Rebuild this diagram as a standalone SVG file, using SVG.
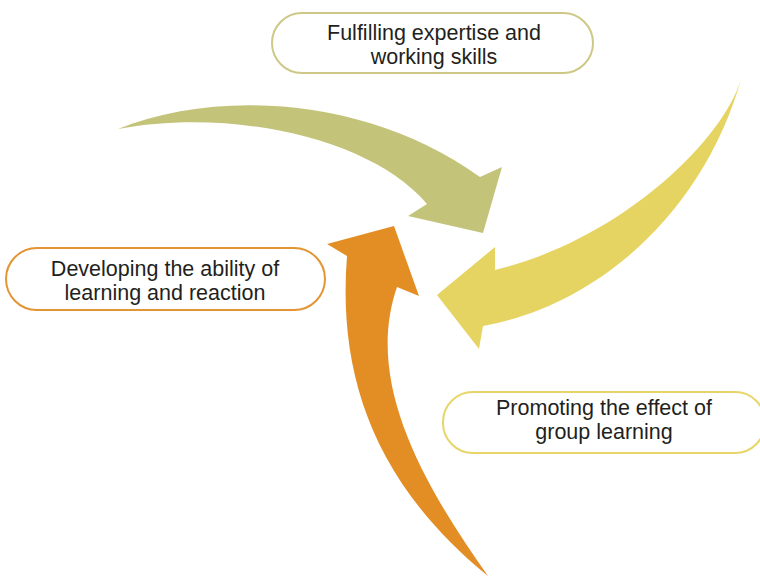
<svg xmlns="http://www.w3.org/2000/svg" width="760" height="577" viewBox="0 0 760 577">
<style>
.box{fill:#fff;stroke-width:2}
.t{font-family:"Liberation Sans",Arial,sans-serif;font-size:21.5px;fill:#231f20;text-anchor:middle}
</style>
<rect width="760" height="577" fill="#fff"/>
<g id="connectors">
<path id="arrow-olive" fill="#c4c37a" d="M118,129 C220,88 370,98 480,177 L502,167 L483,233 L408,216 L427,204 C370,137 230,108 118,129 Z"/>
<path id="arrow-yellow" fill="#e6d462" d="M742,76 C725,140 620,240 495,270 L495,247 L437,295 L479,349 L483,326 C600,305 705,210 742,76 Z"/>
<path id="arrow-orange" fill="#e38e25" d="M488,576 C420,480 365,380 397,287 L419,296 L394,226 L327,244 L347,256 C338,370 370,480 488,576 Z"/>
</g>
<g id="node-expertise">
<rect class="box" x="272" y="13" width="321" height="60" rx="30" stroke="#cdc886"/>
<text class="t" x="434" y="39.5">Fulfilling expertise and</text>
<text class="t" x="434" y="64">working skills</text>
</g>
<g id="node-learning">
<rect class="box" x="6" y="248" width="319" height="62" rx="31" stroke="#e39433"/>
<text class="t" x="165" y="276">Developing the ability of</text>
<text class="t" x="165" y="300">learning and reaction</text>
</g>
<g id="node-group">
<rect class="box" x="443" y="392" width="322" height="61" rx="30" stroke="#e8d56a"/>
<text class="t" x="604" y="415">Promoting the effect of</text>
<text class="t" x="604" y="439">group learning</text>
</g>
</svg>
